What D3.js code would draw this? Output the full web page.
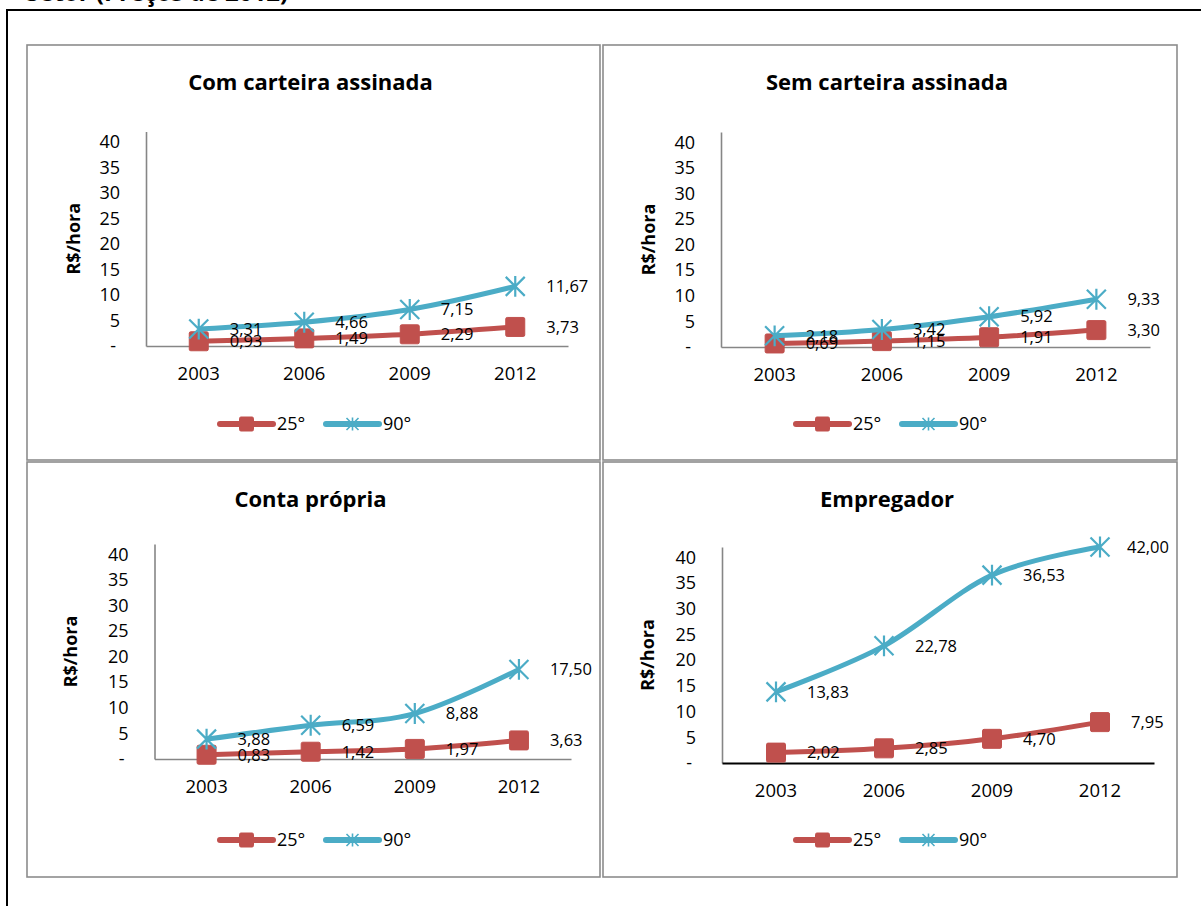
<!DOCTYPE html>
<html>
<head>
<meta charset="utf-8">
<script src="https://cdn.jsdelivr.net/npm/d3@7"></script>
<style>
  html, body { margin: 0; padding: 0; background: #fff; overflow: hidden; }
  text { font-family: "Open Sans", "Noto Sans", sans-serif; fill: #000; }
</style>
</head>
<body>
<svg width="1201" height="906"></svg>
<script>
// values
var years = ["2003", "2006", "2009", "2012"];
var yTicks = [0, 5, 10, 15, 20, 25, 30, 35, 40];
var seriesNames = ["25°", "90°"];
var panelTitles = ["Com carteira assinada", "Sem carteira assinada", "Conta própria", "Empregador"];

var comCarteira25 = [0.93, 1.49, 2.29, 3.73];
var comCarteira90 = [3.31, 4.66, 7.15, 11.67];
var semCarteira25 = [0.69, 1.15, 1.91, 3.30];
var semCarteira90 = [2.18, 3.42, 5.92, 9.33];
var contaPropria25 = [0.83, 1.42, 1.97, 3.63];
var contaPropria90 = [3.88, 6.59, 8.88, 17.50];
var empregador25 = [2.02, 2.85, 4.70, 7.95];
var empregador90 = [13.83, 22.78, 36.53, 42.00];

var red = "#C0504D", blue = "#4BACC6", axisGray = "#868686";

// panel geometry
var panels = [
  {title: panelTitles[0], s25: comCarteira25, s90: comCarteira90,
   box: [27, 45, 573, 415], l: 146, r: 568, t: 131.5, b: 346, yTitleX: 74, legendY: 424, xAxisColor: axisGray},
  {title: panelTitles[1], s25: semCarteira25, s90: semCarteira90,
   box: [603, 45, 574, 415], l: 721, r: 1150, t: 132, b: 347, yTitleX: 649, legendY: 424, xAxisColor: axisGray},
  {title: panelTitles[2], s25: contaPropria25, s90: contaPropria90,
   box: [27, 462, 573, 415], l: 154.5, r: 571, t: 544, b: 759, yTitleX: 71, legendY: 840, xAxisColor: axisGray},
  {title: panelTitles[3], s25: empregador25, s90: empregador90,
   box: [603, 462, 574, 415], l: 722, r: 1154, t: 547, b: 763, yTitleX: 648, legendY: 840, xAxisColor: "#000"}
];

var svg = d3.select("svg");

// page heading, cut off by the top of the page
svg.append("text")
  .attr("x", 26).attr("y", 1)
  .style("font-size", "24px").style("font-weight", "bold")
  .text("Setor (Preços de 2012)");

// outer black frame
svg.append("rect")
  .attr("x", 7).attr("y", 10).attr("width", 1300).attr("height", 1000)
  .attr("fill", "none").attr("stroke", "#000").attr("stroke-width", 2);

function starPath(s) {
  return "M" + (-s) + "," + (-s) + "L" + s + "," + s +
         "M" + (-s) + "," + s + "L" + s + "," + (-s) +
         "M0," + (-s * 1.1) + "L0," + (s * 1.1);
}

function drawMarker(g, name, x, y, big) {
  if (name === "25°") {
    var sz = big ? 19 : 14;
    g.append("rect")
      .attr("x", x - sz / 2).attr("y", y - sz / 2)
      .attr("width", sz).attr("height", sz)
      .attr("rx", 1.5)
      .attr("fill", red).attr("stroke", red).attr("stroke-width", 1);
  } else {
    g.append("path")
      .attr("d", starPath(big ? 9.5 : 6))
      .attr("transform", "translate(" + x + "," + y + ")")
      .attr("fill", "none").attr("stroke", blue)
      .attr("stroke-width", big ? 2.2 : 1.6);
  }
}

panels.forEach(function(p) {
  var g = svg.append("g");
  var bx = p.box[0], by = p.box[1], bw = p.box[2], bh = p.box[3];

  g.append("rect")
    .attr("x", bx).attr("y", by).attr("width", bw).attr("height", bh)
    .attr("fill", "#fff").attr("stroke", "#8c8c8c").attr("stroke-width", 1.6);

  g.append("text")
    .attr("x", bx + bw / 2 - 3).attr("y", by + 37)
    .attr("dy", "0.35em")
    .attr("text-anchor", "middle")
    .style("font-size", "22px").style("font-weight", "bold")
    .text(p.title);

  var x = d3.scaleBand().domain(years).range([p.l, p.r]);
  var y = d3.scaleLinear().domain([0, 42]).range([p.b, p.t]);
  var cx = function(d, i) { return x(years[i]) + x.bandwidth() / 2; };

  // y axis
  var ya = g.append("g")
    .attr("transform", "translate(" + p.l + ",0)")
    .call(d3.axisLeft(y).tickValues(yTicks).tickSize(0).tickPadding(26)
      .tickFormat(function(d) { return d === 0 ? "-" : d; }));
  ya.select(".domain").attr("stroke", axisGray).attr("stroke-width", 1.6);
  ya.selectAll("text").attr("font-family", null).attr("font-size", null)
    .style("font-size", "18px").attr("fill", "#000")
    .attr("dx", function(d) { return d === 0 ? -4 : 0; });

  // x axis
  var xa = g.append("g")
    .attr("transform", "translate(0," + p.b + ")")
    .call(d3.axisBottom(x).tickSize(0).tickPadding(21));
  xa.select(".domain").attr("stroke", p.xAxisColor)
    .attr("stroke-width", p.xAxisColor === "#000" ? 2 : 1.6);
  xa.selectAll("text").attr("font-family", null).attr("font-size", null)
    .style("font-size", "18.5px").attr("fill", "#000");

  // y axis title
  g.append("text")
    .attr("transform", "translate(" + p.yTitleX + "," + ((p.t + p.b) / 2) + ") rotate(-90)")
    .attr("dy", "0.35em")
    .attr("text-anchor", "middle")
    .style("font-size", "18px").style("font-weight", "bold")
    .text("R$/hora");

  var line = d3.line()
    .x(cx)
    .y(function(d) { return y(d); })
    .curve(d3.curveCardinal.tension(0));

  var series = [{name: seriesNames[0], values: p.s25, color: red},
                {name: seriesNames[1], values: p.s90, color: blue}];

  series.forEach(function(s) {
    g.append("path")
      .attr("d", line(s.values))
      .attr("fill", "none").attr("stroke", s.color)
      .attr("stroke-width", 5).attr("stroke-linejoin", "round");
    s.values.forEach(function(v, i) {
      drawMarker(g, s.name, cx(v, i), y(v), true);
    });
  });

  // data labels right of the points
  series.forEach(function(s) {
    s.values.forEach(function(v, i) {
      var t = g.append("text")
        .attr("x", cx(v, i) + 31).attr("y", y(v))
        .attr("dy", "0.35em")
        .style("font-size", "16.5px")
        .text(d3.format(".2f")(v).replace(".", ","));
      var len = t.node().getComputedTextLength();
      var maxX = bx + bw - 8;
      if (cx(v, i) + 31 + len > maxX) t.attr("x", maxX - len);
    });
  });

  // legend
  var lx = bx + 193, ly = p.legendY;
  series.forEach(function(s, k) {
    var ox = lx + k * 106;
    g.append("line")
      .attr("x1", ox).attr("x2", ox + 53).attr("y1", ly).attr("y2", ly)
      .attr("stroke", s.color).attr("stroke-width", 6).attr("stroke-linecap", "round");
    drawMarker(g, s.name, ox + 26.5, ly, false);
    g.append("text")
      .attr("x", ox + 57).attr("y", ly)
      .attr("dy", "0.35em")
      .style("font-size", "18px")
      .text(s.name);
  });
});
</script>
</body>
</html>
